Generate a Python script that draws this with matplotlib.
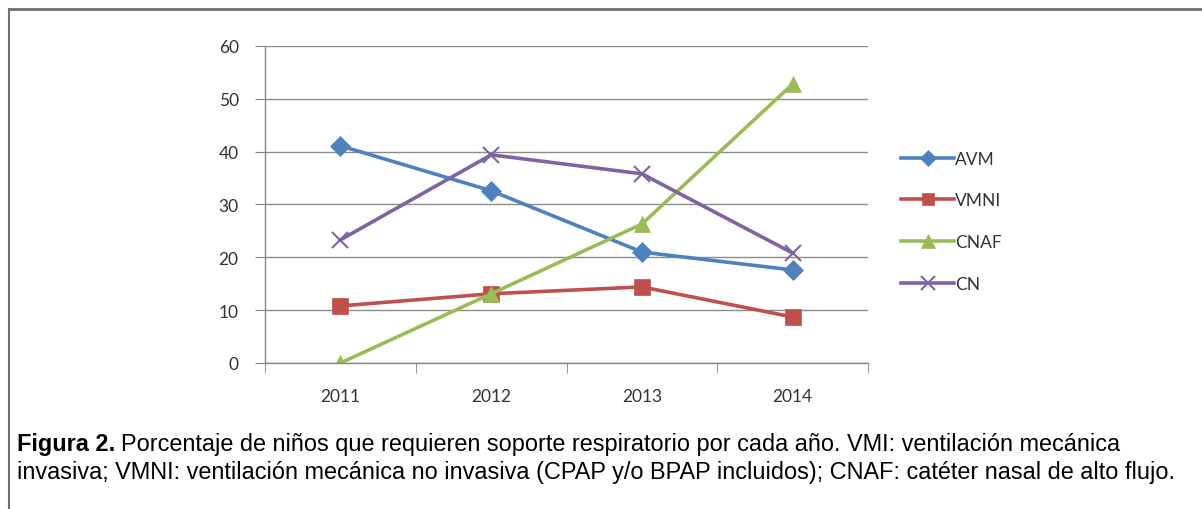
import matplotlib
matplotlib.use('Agg')
import matplotlib.pyplot as plt
from matplotlib.lines import Line2D

years = ['2011', '2012', '2013', '2014']
avm = [41.1, 32.6, 21.0, 17.6]
vmni = [10.8, 13.1, 14.4, 8.7]
cnaf = [0.0, 13.1, 26.3, 52.8]
cn = [23.3, 39.4, 35.8, 20.8]

series_names = ['AVM', 'VMNI', 'CNAF', 'CN']
colors = ['#4F81BD', '#C0504D', '#9BBB59', '#8064A2']
markers = ['D', 's', '^', 'x']
msizes = [10, 11, 12, 12]

fig = plt.figure(figsize=(12.02, 5.10), dpi=100)
ax = fig.add_axes([0.2205, 0.2863, 0.5017, 0.6216])

xs = list(range(len(years)))
for vals, name, c, m, ms in zip([avm, vmni, cnaf, cn], series_names, colors, markers, msizes):
    ax.plot(xs, vals, color=c, lw=2.6, marker=m, markersize=ms,
            markeredgewidth=1.5 if m == 'x' else 0.5, markeredgecolor=c, label=name)

ax.set_xlim(-0.5, 3.5)
ax.set_ylim(0, 60)
ax.set_yticks(range(0, 61, 10))
ax.set_xticks(xs)
ax.set_xticklabels(years)
ax.set_xticks([-0.5, 0.5, 1.5, 2.5, 3.5], minor=True)
ax.tick_params(axis='x', which='major', length=0, pad=18, labelsize=12.5, labelcolor='#333333')
ax.tick_params(axis='x', which='minor', length=7, color='#868686', direction='out')
ax.tick_params(axis='y', length=7, color='#868686', pad=12, labelsize=12.5, labelcolor='#333333')
for lab in ax.get_xticklabels() + ax.get_yticklabels():
    lab.set_family('Lato')

ax.grid(axis='y', color='#8c8c8c', lw=1.0)
ax.set_axisbelow(True)
for s in ['top', 'right']:
    ax.spines[s].set_visible(False)
for s in ['left', 'bottom']:
    ax.spines[s].set_color('#868686')
    ax.spines[s].set_linewidth(1.0)

handles = [Line2D([0], [0], color=c, lw=2.6, marker=m, markersize=ms * 0.85,
                  markeredgewidth=1.5 if m == 'x' else 0.5, markeredgecolor=c)
           for c, m, ms in zip(colors, markers, msizes)]
fig.legend(handles, series_names, loc='upper left', bbox_to_anchor=(0.737, 0.733),
           frameon=False, handlelength=3.0, handletextpad=0.1, labelspacing=1.48,
           prop={'family': 'Lato', 'size': 12.5})
for t in fig.legends[0].get_texts():
    t.set_color('#333333')

# frame lines around the figure panel
fig.add_artist(Line2D([9 / 1202, 1], [1 - 10 / 510, 1 - 10 / 510], color='#707070', lw=2))
fig.add_artist(Line2D([9 / 1202, 9 / 1202], [0, 1 - 10 / 510], color='#707070', lw=1.5))

# caption: bold label, then the rest of the first line right after it
cap_font = 'Liberation Sans'
cap_size = 16.9
lbl = fig.text(17 / 1202, 1 - 451 / 510, 'Figura 2.', fontsize=cap_size, fontweight='bold',
               family=cap_font, va='baseline', ha='left')
fig.canvas.draw()
bb = lbl.get_window_extent()
fig.text((bb.x1 + 6) / 1202, 1 - 451 / 510,
         'Porcentaje de niños que requieren soporte respiratorio por cada año. VMI: ventilación mecánica',
         fontsize=cap_size, family=cap_font, va='baseline', ha='left')
fig.text(17 / 1202, 1 - 479 / 510,
         'invasiva; VMNI: ventilación mecánica no invasiva (CPAP y/o BPAP incluidos); CNAF: catéter nasal de alto flujo.',
         fontsize=cap_size, family=cap_font, va='baseline', ha='left')

fig.savefig('out.png', dpi=100)
